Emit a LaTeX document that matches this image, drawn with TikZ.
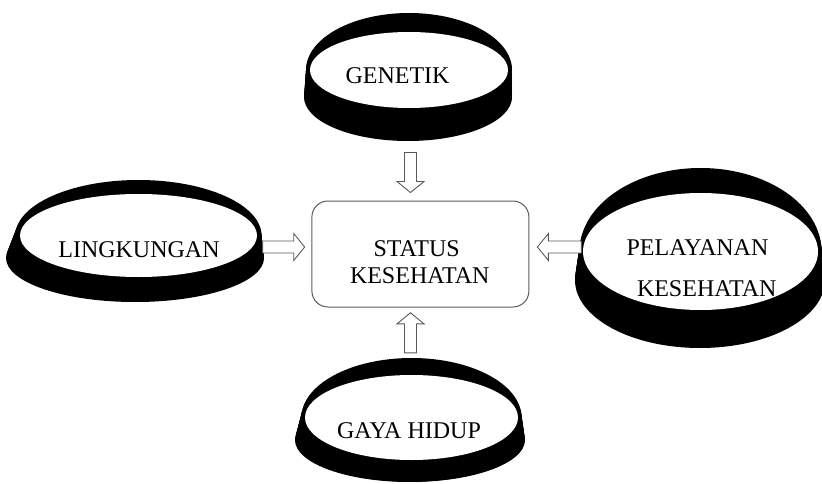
\documentclass[tikz,border=0pt]{standalone}
\usepackage{fontspec}
\setmainfont{Liberation Serif}
\usetikzlibrary{calc}
\definecolor{boxgrey}{HTML}{5A5A5A}
\definecolor{ringblack}{HTML}{000000}

% A rimmed ring: the top rim ellipse is swept down to the base ellipse,
% then the white opening is cut on top. Each argument is x/y/xradius/yradius.
\newcommand\rimring[3]{%
  \foreach \tx/\ty/\ta/\tb in {#1}{%
    \foreach \bx/\by/\ba/\bb in {#2}{%
      \foreach \k in {0,1,...,16}{%
        \pgfmathsetmacro\u{\k/16}%
        \fill[ringblack] ({\tx+(\bx-\tx)*\u},{\ty+(\by-\ty)*\u})
          ellipse [x radius={\ta+(\ba-\ta)*\u}, y radius={\tb+(\bb-\tb)*\u}];
      }%
    }}%
  \foreach \ox/\oy/\oa/\ob in {#3}{%
    \fill[white] (\ox,\oy) ellipse [x radius=\oa, y radius=\ob];}%
}

% Hollow block arrow whose tip sits at #1, turned by #2 degrees, #3 long.
\newcommand\blockarrow[3]{%
  \begin{scope}[shift={#1}, rotate=#2]
    \draw[hollowarrow] (-#3,-6) -- (-11,-6) -- (-11,-13.5) -- (0,0)
      -- (-11,13.5) -- (-11,6) -- (-#3,6) -- cycle;
  \end{scope}%
}

\begin{document}
\begin{tikzpicture}[x=1pt, y=-1pt,
  lbl/.style={font=\fontsize{24}{28}\selectfont, inner sep=0pt, anchor=base},
  statusbox/.style={draw=boxgrey, line width=1pt, rounded corners=16pt,
    minimum width=217pt, minimum height=106pt, inner sep=0pt},
  hollowarrow/.style={draw=boxgrey, line width=0.9pt, fill=white, line join=miter}]

\useasboundingbox (0,0) rectangle (822,484);

% rings
\begin{scope}
  \clip (0,0) rectangle (822,484);
  \rimring{409/70/103/57}{408/97/104/44}{409/70/99/38}
  \rimring{138.5/235.5/123/55.5}{135/258/129/44}{138.5/235.5/118.5/41.5}
  \rimring{700.5/251.5/121/83.5}{700/280/125/68}{700.5/251.5/117.5/58.5}
  \rimring{411.5/417.5/110/59.5}{410/440/115/42}{411.5/417.5/106.5/42.5}
\end{scope}

% central box
\node[statusbox] (status) at (420.4,254) {};
\node[lbl] (statusA) at (416.7,256) {STATUS};
\node[lbl] (statusB) at (419.7,283.3) {KESEHATAN};

% ring labels
\node[lbl] (genetik) at (397.5,83.3) {GENETIK};
\node[lbl] (lingkungan) at (139,257.3) {LINGKUNGAN};
\node[lbl] (pelayananA) at (697.5,255.7) {PELAYANAN};
\node[lbl] (pelayananB) at (706.7,296.7) {KESEHATAN};
\node[lbl] (gaya) at (409,438.3) {GAYA HIDUP};

% arrows into the box
\coordinate (tipTop) at ($(status.north)+(-9.9,-8)$);
\coordinate (tipBottom) at ($(status.south)+(-9.9,5.3)$);
\coordinate (tipLeft) at ($(status.west)+(-6.7,-7)$);
\coordinate (tipRight) at ($(status.east)+(8,-7)$);
\blockarrow{(tipTop)}{-90}{40}
\blockarrow{(tipBottom)}{90}{40}
\blockarrow{(tipLeft)}{0}{42}
\blockarrow{(tipRight)}{180}{44}

\end{tikzpicture}
\end{document}
